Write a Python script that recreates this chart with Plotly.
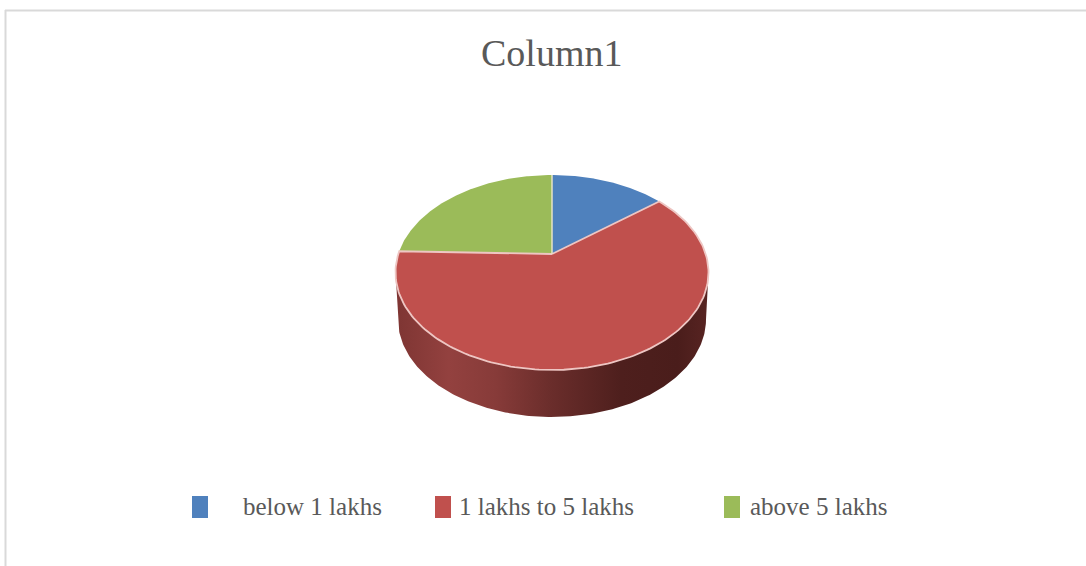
import numpy as np
import plotly.graph_objects as go

title = "Column1"
categories = ["below 1 lakhs", "1 lakhs to 5 lakhs", "above 5 lakhs"]
values = [12, 66.5, 21.5]
colors = ["#4f81bd", "#c0504d", "#9bbb59"]

# pixel-like data space for the tilted pie
W, H = 1086, 566
CX, CY, RX, RY = 552, 272.5, 156.5, 97.5
APEX_Y = 254
DEPTH = 47
EDGE = "#eec6c3"
SEP = "#e6e3c4"

swatch_x = [192, 435, 724]
label_x = [243, 458.5, 750]
LEG_Y = 506


def rim(a0, a1, n=160, dy=0.0, shrink=0.0):
    t = np.radians(np.linspace(a0, a1, n))
    return CX + (RX - shrink) * np.sin(t), CY + dy - RY * np.cos(t)


fig = go.Figure()

# side wall: lower half of the top rim + lower rim going back
tx, ty = rim(90, 270, 200)
bx, by = rim(270, 90, 200, dy=DEPTH, shrink=2.5)
wall_x = np.concatenate([tx, bx])
wall_y = np.concatenate([ty, by])
fig.add_trace(go.Scatter(
    x=wall_x, y=wall_y, mode="lines", fill="toself", line=dict(width=0),
    fillgradient=dict(type="horizontal", colorscale=[
        [0.0, "#7e3533"], [0.17, "#93413f"], [0.32, "#873b39"], [0.5, "#6a2d2b"],
        [0.72, "#4e1f1d"], [0.9, "#4a1d1b"], [1.0, "#582422"]]),
    hoverinfo="skip", showlegend=False))

# top faces, angles taken from the values
total = sum(values)
angles = np.cumsum([0] + [v / total * 360 for v in values])
order = [0, 2, 1]
for i in order:
    rx, ry = rim(angles[i], angles[i + 1])
    px = np.concatenate([[CX], rx, [CX]])
    py = np.concatenate([[APEX_Y], ry, [APEX_Y]])
    fig.add_trace(go.Scatter(
        x=px, y=py, mode="lines", fill="toself", fillcolor=colors[i],
        line=dict(color=EDGE if i == 1 else colors[i], width=1.8 if i == 1 else 0),
        name=categories[i], hoverinfo="name", showlegend=False))

# separator between last and first slices
fig.add_trace(go.Scatter(x=[CX, CX], y=[APEX_Y, CY - RY], mode="lines",
                         line=dict(color=SEP, width=1.5), hoverinfo="skip", showlegend=False))

shapes = [
    dict(type="line", xref="x", yref="y", x0=5.5, x1=5.5, y0=10, y1=H, line=dict(color="#d9d9d9", width=2)),
    dict(type="line", xref="x", yref="y", x0=5, x1=W, y0=10.5, y1=10.5, line=dict(color="#d9d9d9", width=2)),
]
annotations = [dict(text=title, x=551, y=53, xref="x", yref="y", showarrow=False,
                    font=dict(family="Liberation Serif", size=38, color="#595959"))]
for sx, lx, c, name in zip(swatch_x, label_x, colors, categories):
    shapes.append(dict(type="rect", xref="x", yref="y", x0=sx, x1=sx + 16,
                       y0=507 - 11, y1=507 + 11, fillcolor=c, line=dict(width=0)))
    annotations.append(dict(text=name, x=lx, y=LEG_Y, xref="x", yref="y", xanchor="left",
                            showarrow=False, xshift=-2,
                            font=dict(family="Liberation Serif", size=25, color="#595959")))

fig.update_layout(
    width=W, height=H, margin=dict(l=0, r=0, t=0, b=0),
    paper_bgcolor="white", plot_bgcolor="white", showlegend=False,
    xaxis=dict(range=[0, W], visible=False, fixedrange=True),
    yaxis=dict(range=[H, 0], visible=False, fixedrange=True),
    shapes=shapes, annotations=annotations,
)
fig.write_html("out.html", config={"displayModeBar": False},
               post_script="document.body.style.margin='0';document.body.style.overflow='hidden';")
